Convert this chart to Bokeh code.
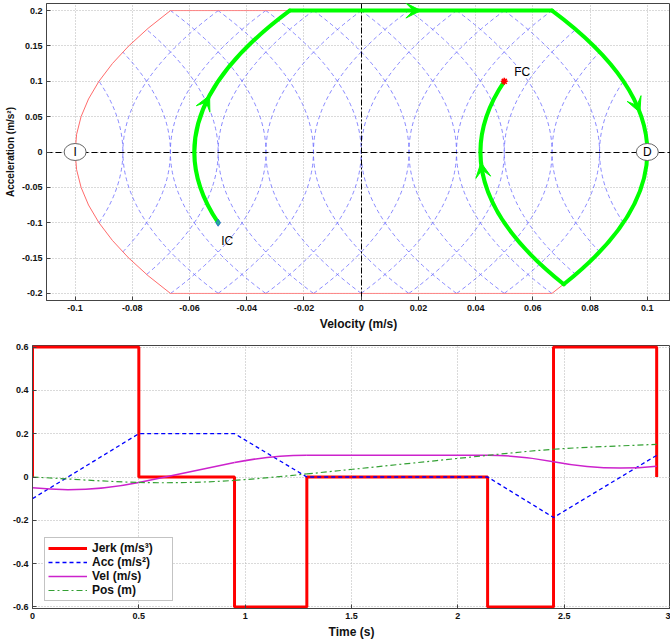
import math
from bokeh.plotting import figure
from bokeh.models import (FixedTicker, CustomJSTickFormatter, Arrow, VeeHead,
                          Legend, LegendItem)
from bokeh.core.properties import value
from bokeh.embed import file_html
from bokeh.resources import INLINE

# ---------------- data ----------------
# switching times of the jerk profile and the state at each switch
t_knots = [0.0, 0.5, 0.95, 1.29, 2.14, 2.45, 2.935]
jerk_vals = [0.6, 0.0, -0.6, 0.0, -0.6, 0.6]          # jerk on each interval
acc_knots = [-0.1, 0.2, 0.2, 0.0, 0.0, -0.187, 0.1]   # acceleration at switches
vel_knots = [-0.05, -0.025, 0.0667, 0.1, 0.1, 0.0708, 0.05]
pos_knots = [0.0, -0.025, -0.0155, 0.0141, 0.0999, 0.128, 0.151]

# limits used for the phase-plane grid of switching parabolas
j_max = 0.6
a_max = 0.2
v_max = 0.1
vertex_v = [-0.0833, -0.0667, -0.05, -0.0333, -0.0167, 0.0,
            0.0167, 0.0333, 0.05, 0.0667, 0.0833]

limit_v = [-0.1, 0.1]
limit_labels = ["I", "D"]
ic_label = "IC"
fc_label = "FC"

# where the direction arrows sit (phase segment index, fraction along it)
arrow_seg = [0, 1, 2, 5]
arrow_s = [0.6, 0.5, 0.72, 0.6]

phase_xticks = [-0.1, -0.08, -0.06, -0.04, -0.02, 0, 0.02, 0.04, 0.06, 0.08, 0.1]
phase_yticks = [-0.2, -0.15, -0.1, -0.05, 0, 0.05, 0.1, 0.15, 0.2]
time_xticks = [0, 0.5, 1, 1.5, 2, 2.5, 3]
time_yticks = [-0.6, -0.4, -0.2, 0, 0.2, 0.4, 0.6]

series_labels = ["Jerk (m/s³)", "Acc (m/s²)", "Vel (m/s)", "Pos (m)"]

FONT = "Liberation Sans"


def style(p, xt, yt):
    xtk = FixedTicker(ticks=xt)
    ytk = FixedTicker(ticks=yt)
    p.xaxis.ticker = xtk
    p.yaxis.ticker = ytk
    p.xgrid.ticker = xtk
    p.ygrid.ticker = ytk
    for ax in (p.xaxis[0], p.yaxis[0]):
        ax.formatter = CustomJSTickFormatter(code="return tick.toString();")
        ax.major_tick_in = 4
        ax.major_tick_out = 0
        ax.minor_tick_line_color = None
        ax.major_label_text_font = FONT
        ax.major_label_text_font_size = "9px"
        ax.major_label_text_font_style = "bold"
        ax.major_label_text_color = "#111111"
        ax.axis_line_color = "#444444"
        ax.major_tick_line_color = "#444444"
        ax.major_label_standoff = 4
        ax.axis_label_text_font = FONT
        ax.axis_label_text_font_style = "bold"
        ax.axis_label_text_color = "#111111"
        ax.axis_label_standoff = 3
    p.grid.grid_line_color = "#b4b4b4"
    p.grid.grid_line_dash = "1 2"
    p.outline_line_color = "#444444"


# ---------------- phase plane ----------------
p1 = figure(width=670, height=333, x_range=(-0.11, 0.1081), y_range=(-0.21, 0.21),
            output_backend="svg", toolbar_location=None,
            min_border_left=46, min_border_right=0, min_border_top=3,
            min_border_bottom=32)
style(p1, phase_xticks, phase_yticks)
p1.xaxis.axis_label = "Velocity (m/s)"
p1.yaxis.axis_label = "Acceleration (m/s²)"
p1.xaxis.axis_label_text_font_size = "12px"
p1.yaxis.axis_label_text_font_size = "10px"

# family of constant-jerk parabolas, clipped to the limit region
bx0, by0, bx1, by1, bcx, bcy = [], [], [], [], [], []
for v0 in vertex_v:
    h = min(a_max, math.sqrt(j_max * (v_max - v0)))
    k = h * h / (2 * j_max)
    bx0.append(v0 + k); by0.append(-h); bx1.append(v0 + k); by1.append(h)
    bcx.append(v0 - k); bcy.append(0.0)
    h = min(a_max, math.sqrt(j_max * (v_max + v0)))
    k = h * h / (2 * j_max)
    bx0.append(v0 - k); by0.append(-h); bx1.append(v0 - k); by1.append(h)
    bcx.append(v0 + k); bcy.append(0.0)
p1.quadratic(x0=bx0, y0=by0, x1=bx1, y1=by1, cx=bcx, cy=bcy,
             line_color="#6a6aff", line_dash="4 3", line_width=0.8)

# limit boundary (red)
kb = a_max * a_max / (2 * j_max)
p1.quadratic(x0=[-v_max + kb, v_max - kb], y0=[-a_max, -a_max],
             x1=[-v_max + kb, v_max - kb], y1=[a_max, a_max],
             cx=[-v_max - kb, v_max + kb], cy=[0.0, 0.0],
             line_color="#ff5a5a", line_width=0.9)
p1.segment(x0=[-v_max + kb, -v_max + kb], y0=[a_max, -a_max],
           x1=[v_max - kb, v_max - kb], y1=[a_max, -a_max],
           line_color="#ff7a7a", line_width=0.9)

# zero axes
p1.hspan(y=[0.0], line_color="black", line_dash="6 3", line_width=1.2)
p1.vspan(x=[0.0], line_color="black", line_dash="6 2 2 2", line_width=1.0)

# trajectory (green)
gx0, gy0, gx1, gy1, gcx, gcy = [], [], [], [], [], []
for k in range(len(jerk_vals)):
    j = jerk_vals[k]
    a0, a1 = acc_knots[k], acc_knots[k + 1]
    v0, v1 = vel_knots[k], vel_knots[k + 1]
    am = 0.5 * (a0 + a1)
    if j == 0:
        cx = 0.5 * (v0 + v1)
    else:
        cx = 0.5 * ((v0 + a0 / j * (am - a0)) + (v1 + a1 / j * (am - a1)))
    gx0.append(v0); gy0.append(a0); gx1.append(v1); gy1.append(a1)
    gcx.append(cx); gcy.append(am)
p1.quadratic(x0=gx0, y0=gy0, x1=gx1, y1=gy1, cx=gcx, cy=gcy,
             line_color="#00ff00", line_width=4, line_cap="round")


def bez(k, s):
    x = (1 - s) ** 2 * gx0[k] + 2 * (1 - s) * s * gcx[k] + s ** 2 * gx1[k]
    y = (1 - s) ** 2 * gy0[k] + 2 * (1 - s) * s * gcy[k] + s ** 2 * gy1[k]
    return x, y


for k, s in zip(arrow_seg, arrow_s):
    xs, ys = bez(k, s - 0.06)
    xe, ye = bez(k, s)
    p1.add_layout(Arrow(end=VeeHead(size=15, fill_color="#00ff00", line_color="#00ff00",
                                    line_width=1),
                        x_start=xs, y_start=ys, x_end=xe, y_end=ye, line_alpha=0))

# initial / final condition markers
p1.scatter(x=[vel_knots[0]], y=[acc_knots[0]], marker="diamond", size=7,
           fill_color="#20b090", line_color="#3070d0")
p1.scatter(x=[vel_knots[-1]], y=[acc_knots[-1]], marker="asterisk", size=7,
           line_color="red", line_width=1.6)
p1.text(x=[vel_knots[0]], y=[acc_knots[0]], text=[ic_label], x_offset=3, y_offset=18,
        text_font=value(FONT), text_font_size="12px", text_baseline="middle",
        text_align="left", text_color="black")
p1.text(x=[vel_knots[-1]], y=[acc_knots[-1]], text=[fc_label], x_offset=10, y_offset=-9,
        text_font=value(FONT), text_font_size="12px", text_baseline="middle",
        text_align="left", text_color="black")

# limit markers I and D
zero_a = [0.0] * len(limit_v)
p1.ellipse(x=limit_v, y=zero_a, width=22, height=17, width_units="screen",
           height_units="screen", fill_color="white", line_color="#666666", line_width=1)
p1.text(x=limit_v, y=zero_a, text=limit_labels, text_font=value(FONT),
        text_font_size="12px", text_align="center", text_baseline="middle",
        text_color="black")

# ---------------- time series ----------------
p2 = figure(width=670, height=309, x_range=(0, 3), y_range=(-0.607, 0.607),
            output_backend="svg", toolbar_location=None,
            min_border_left=32, min_border_right=0, min_border_top=12,
            min_border_bottom=34)
style(p2, time_xticks, time_yticks)
p2.xaxis.axis_label = "Time (s)"
p2.xaxis.axis_label_text_font_size = "12px"
p2.yaxis.axis_label = None

jerk_x = [t_knots[0]] + t_knots
jerk_y = [0.0] + jerk_vals + [0.0]
r_jerk = p2.step(jerk_x, jerk_y, mode="after", line_color="#ff0000", line_width=3)
r_acc = p2.line(t_knots, acc_knots, line_color="#0000ff", line_dash="4 3", line_width=1.3)

vx0, vy0, vx1, vy1, vcx, vcy = [], [], [], [], [], []
px0, py0, px1, py1, pcx0, pcy0, pcx1, pcy1 = [], [], [], [], [], [], [], []
for k in range(len(t_knots) - 1):
    t0, t1 = t_knots[k], t_knots[k + 1]
    dt = t1 - t0
    vx0.append(t0); vy0.append(vel_knots[k]); vx1.append(t1); vy1.append(vel_knots[k + 1])
    vcx.append(t0 + dt / 2)
    vcy.append(0.5 * ((vel_knots[k] + acc_knots[k] * dt / 2) +
                      (vel_knots[k + 1] - acc_knots[k + 1] * dt / 2)))
    px0.append(t0); py0.append(pos_knots[k]); px1.append(t1); py1.append(pos_knots[k + 1])
    pcx0.append(t0 + dt / 3); pcy0.append(pos_knots[k] + vel_knots[k] * dt / 3)
    pcx1.append(t1 - dt / 3); pcy1.append(pos_knots[k + 1] - vel_knots[k + 1] * dt / 3)

r_vel = p2.quadratic(x0=vx0, y0=vy0, x1=vx1, y1=vy1, cx=vcx, cy=vcy,
                     line_color="#cc22cc", line_width=1.5)
r_pos = p2.bezier(x0=px0, y0=py0, x1=px1, y1=py1, cx0=pcx0, cy0=pcy0, cx1=pcx1, cy1=pcy1,
                  line_color="#33a033", line_dash="6 3 2 3", line_width=1.2)

legend = Legend(items=[LegendItem(label=series_labels[0], renderers=[r_jerk]),
                       LegendItem(label=series_labels[1], renderers=[r_acc]),
                       LegendItem(label=series_labels[2], renderers=[r_vel]),
                       LegendItem(label=series_labels[3], renderers=[r_pos])],
                location=(12, 7), margin=0, padding=3, spacing=-7,
                glyph_width=39, glyph_height=10, label_height=10,
                label_width=77, label_standoff=5,
                label_text_font=FONT, label_text_font_size="12px",
                label_text_font_style="bold", label_text_color="#111111",
                border_line_color="#888888", border_line_width=1.2,
                background_fill_color="white", background_fill_alpha=1.0)
p2.add_layout(legend)

# two independent roots, stacked, so each keeps its own left border
open("out.html", "w").write(file_html([p1, p2], INLINE))
